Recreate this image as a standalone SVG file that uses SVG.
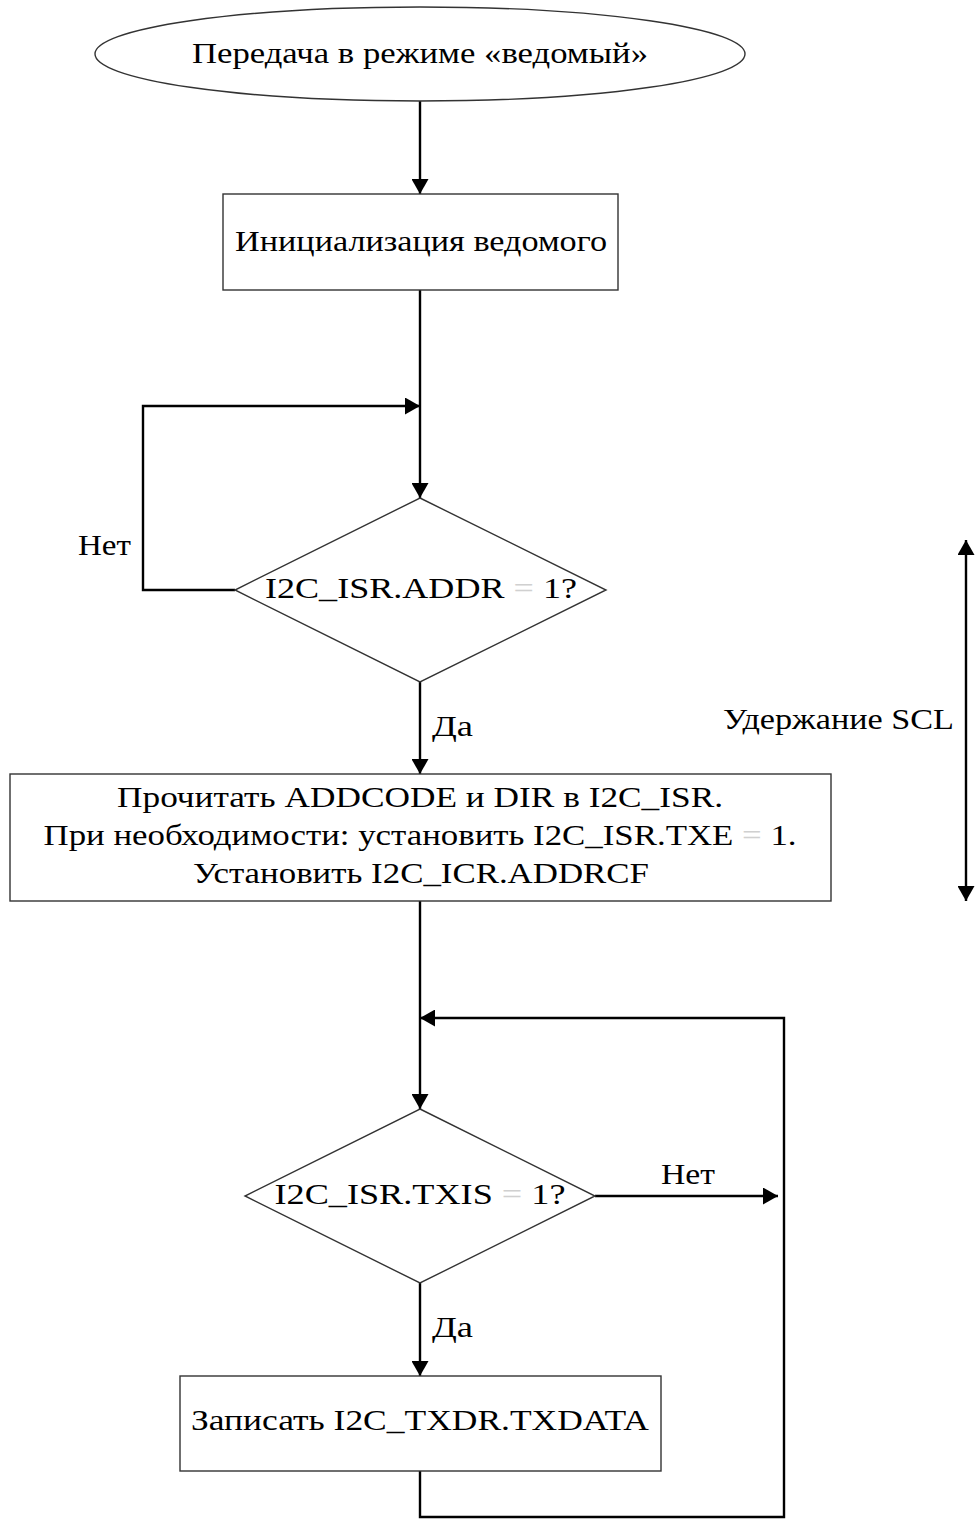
<svg xmlns="http://www.w3.org/2000/svg" width="978" height="1519" viewBox="0 0 978 1519">
<style>
.node{fill:#fff;stroke:#333;stroke-width:1.4}
.conn{fill:none;stroke:#000;stroke-width:2.4}
text{font-family:"Liberation Serif","DejaVu Serif",serif;font-size:29px;fill:#000}
.c{text-anchor:middle}
.eq{fill:#d0d0d0}
</style>
<defs>
<marker id="ah" viewBox="0 0 15 17" refX="15" refY="8.5" markerWidth="15" markerHeight="17" markerUnits="userSpaceOnUse" orient="auto-start-reverse">
<path d="M0,0 L15,8.5 L0,17 Z" fill="#000"/>
</marker>
</defs>
<rect width="978" height="1519" fill="#fff"/>
<g id="connectors">
<path class="conn" d="M420,101 V194" marker-end="url(#ah)"/>
<path class="conn" d="M420,290 V498" marker-end="url(#ah)"/>
<path class="conn" d="M235,590 H143 V406 H420" marker-end="url(#ah)"/>
<path class="conn" d="M420,682 V774" marker-end="url(#ah)"/>
<path class="conn" d="M420,901 V1109" marker-end="url(#ah)"/>
<path class="conn" d="M595,1196 H778" marker-end="url(#ah)"/>
<path class="conn" d="M420,1283 V1376" marker-end="url(#ah)"/>
<path class="conn" d="M420,1471 V1517 H784 V1018 H420" marker-end="url(#ah)"/>
<path class="conn" d="M966,540 V901" marker-start="url(#ah)" marker-end="url(#ah)"/>
</g>
<g id="start">
<ellipse class="node" cx="420" cy="54" rx="325" ry="47"/>
<text class="c" x="420" y="63" textLength="456" lengthAdjust="spacingAndGlyphs">Передача в режиме «ведомый»</text>
</g>
<g id="init">
<rect class="node" x="223" y="194" width="395" height="96"/>
<text class="c" x="421" y="251" textLength="372" lengthAdjust="spacingAndGlyphs">Инициализация ведомого</text>
</g>
<g id="check-addr">
<polygon class="node" points="420,498 606,590 420,682 235,590"/>
<text class="c" x="421" y="598" textLength="312" lengthAdjust="spacingAndGlyphs">I2C_ISR.ADDR <tspan class="eq">=</tspan> 1?</text>
</g>
<g id="read-addr">
<rect class="node" x="10" y="774" width="821" height="127"/>
<text class="c" x="420" y="807" textLength="606" lengthAdjust="spacingAndGlyphs">Прочитать ADDCODE и DIR в I2C_ISR.</text>
<text class="c" x="420" y="845" textLength="753" lengthAdjust="spacingAndGlyphs">При необходимости: установить I2C_ISR.TXE <tspan class="eq">=</tspan> 1.</text>
<text class="c" x="421" y="883" textLength="456" lengthAdjust="spacingAndGlyphs">Установить I2C_ICR.ADDRCF</text>
</g>
<g id="check-txis">
<polygon class="node" points="420,1109 595,1196 420,1283 245,1196"/>
<text class="c" x="420" y="1204" textLength="291" lengthAdjust="spacingAndGlyphs">I2C_ISR.TXIS <tspan class="eq">=</tspan> 1?</text>
</g>
<g id="write-data">
<rect class="node" x="180" y="1376" width="481" height="95"/>
<text class="c" x="420" y="1430" textLength="458" lengthAdjust="spacingAndGlyphs">Записать I2C_TXDR.TXDATA</text>
</g>
<g id="labels">
<text x="78" y="555" textLength="53" lengthAdjust="spacingAndGlyphs">Нет</text>
<text x="432" y="736" textLength="41" lengthAdjust="spacingAndGlyphs">Да</text>
<text x="661" y="1184" textLength="54" lengthAdjust="spacingAndGlyphs">Нет</text>
<text x="432" y="1337" textLength="41" lengthAdjust="spacingAndGlyphs">Да</text>
<text x="723" y="729" textLength="231" lengthAdjust="spacingAndGlyphs">Удержание SCL</text>
</g>
</svg>
